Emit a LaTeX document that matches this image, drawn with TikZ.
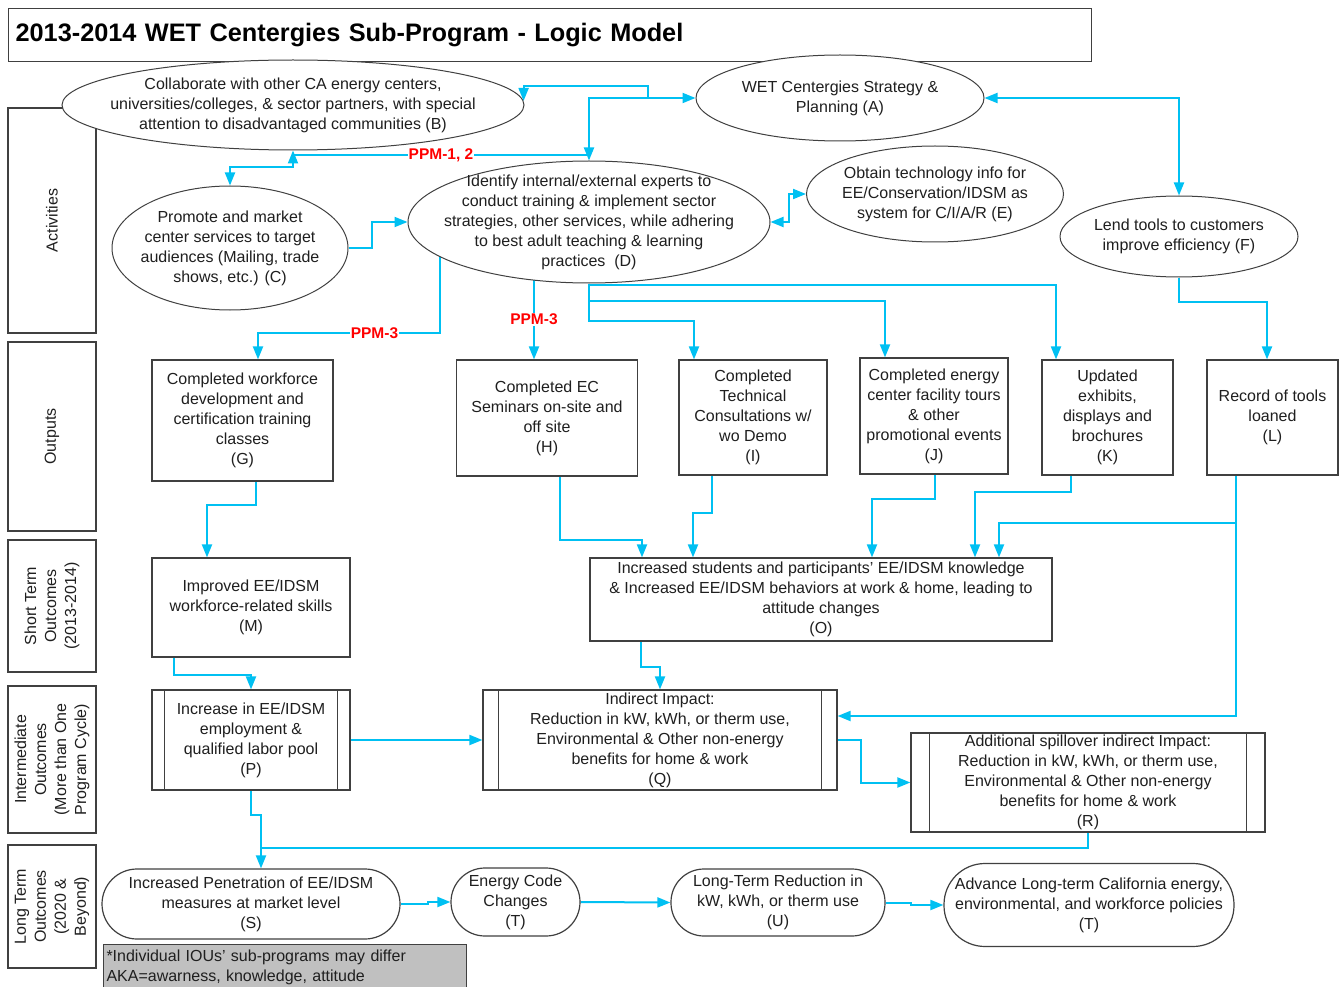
\documentclass[tikz,border=0pt]{standalone}
\usepackage{fontspec}
\setmainfont{Liberation Sans}
\usetikzlibrary{shapes.geometric,arrows.meta,calc}
\definecolor{cy}{RGB}{0,192,242}
\definecolor{notegray}{RGB}{192,192,192}
\pgfdeclarelayer{bg}
\pgfsetlayers{bg,main}
\begin{document}
\begin{tikzpicture}[x=1pt,y=-1pt,
  txt/.style={font=\fontsize{16}{20}\selectfont, text=black!88, align=center, inner sep=0pt},
  rbox/.style={txt, draw=black!75, line width=1.2pt, fill=white, rectangle},
  ebox/.style={draw=black!75, line width=1pt, fill=white, ellipse, inner sep=0pt},
  lab/.style={rbox, rotate=90},
  conn/.style={draw=cy, line width=2pt, -{Triangle[length=13pt,width=10pt]}},
  conntwo/.style={draw=cy, line width=2pt, {Triangle[length=13pt,width=10pt]}-{Triangle[length=13pt,width=10pt]}},
  wire/.style={draw=cy, line width=2pt},
  ppm/.style={font=\bfseries\fontsize{15.5}{18}\selectfont, text=red, fill=white, inner sep=1pt},
  bar/.style={draw=black!75, line width=1.2pt},
]
\useasboundingbox (0,0) rectangle (1339,987);

% title
\node[draw=black!75, line width=1.2pt, anchor=north west, minimum width=1083pt, minimum height=53pt,
      inner xsep=7pt, inner ysep=0pt, text width=1069pt, align=left,
      font=\bfseries\fontsize{25.3}{29}\selectfont] (title) at (8,8) {2013-2014 WET Centergies Sub-Program - Logic Model};

% row labels
\node[lab, minimum width=225pt, minimum height=88pt] (lA) at (52,220.5) {Activities};
\node[lab, minimum width=189pt, minimum height=88pt] (lO) at (52,436.5) {Outputs};
\node[lab, minimum width=132pt, minimum height=88pt] (lS) at (52,606) {Short Term\\Outcomes\\(2013-2014)};
\node[lab, minimum width=147pt, minimum height=88pt] (lI) at (52,759.5) {Intermediate\\Outcomes\\(More than One\\Program Cycle)};
\node[lab, minimum width=123pt, minimum height=88pt] (lL) at (52,906.5) {Long Term\\Outcomes\\(2020 \&\\Beyond)};

% activities (ellipses)
\node[ebox, minimum width=462pt, minimum height=90pt] (B) at (293,105) {};
\node[txt] (Bt) at (B) {Collaborate with other CA energy centers,\\universities/colleges, \& sector partners, with special\\attention to disadvantaged communities (B)};
\node[ebox, minimum width=288pt, minimum height=86pt] (A) at (840,98) {};
\node[txt] (At) at (A) {WET Centergies Strategy \&\\Planning (A)};
\node[ebox, minimum width=236pt, minimum height=124pt] (C) at (230,248) {};
\node[txt] (Ct) at (C) {Promote and market\\center services to target\\audiences (Mailing, trade\\shows, etc.) (C)};
\node[ebox, minimum width=362pt, minimum height=122pt] (D) at (589,222) {};
\node[txt] (Dt) at (D) {Identify internal/external experts to\\conduct training \& implement sector\\strategies, other services, while adhering\\to best adult teaching \& learning\\practices~~(D)};
\node[ebox, minimum width=257pt, minimum height=96pt] (E) at (935,194) {};
\node[txt] (Et) at (E) {Obtain technology info for\\EE/Conservation/IDSM as\\system for C/I/A/R (E)};
\node[ebox, minimum width=238pt, minimum height=81pt] (F) at (1179,236.5) {};
\node[txt] (Ft) at (F) {Lend tools to customers\\improve efficiency (F)};

% outputs
\node[rbox, minimum width=181pt, minimum height=121pt] (G) at (242.5,420.5) {Completed workforce\\development and\\certification training\\classes\\(G)};
\node[rbox, minimum width=181pt, minimum height=116pt] (H) at (547,418) {Completed EC\\Seminars on-site and\\off site\\(H)};
\node[rbox, minimum width=148pt, minimum height=115pt] (I) at (753,417.5) {Completed\\Technical\\Consultations w/\\wo Demo\\(I)};
\node[rbox, minimum width=148pt, minimum height=116pt] (J) at (934,416) {Completed energy\\center facility tours\\\& other\\promotional events\\(J)};
\node[rbox, minimum width=131pt, minimum height=115pt] (K) at (1107.5,417.5) {Updated\\exhibits,\\displays and\\brochures\\(K)};
\node[rbox, minimum width=131pt, minimum height=115pt] (L) at (1272.5,417.5) {Record of tools\\loaned\\(L)};

% short term
\node[rbox, minimum width=198pt, minimum height=99pt] (M) at (251,607.5) {Improved EE/IDSM\\workforce-related skills\\(M)};
\node[rbox, minimum width=462pt, minimum height=83pt] (O) at (821,599.5) {Increased students and participants’ EE/IDSM knowledge\\\& Increased EE/IDSM behaviors at work \& home, leading to\\attitude changes\\(O)};

% intermediate
\node[rbox, minimum width=198pt, minimum height=100pt] (P) at (251,740) {Increase in EE/IDSM\\employment \&\\qualified labor pool\\(P)};
\node[rbox, minimum width=354pt, minimum height=100pt] (Q) at (660,740) {Indirect Impact:\\Reduction in kW, kWh, or therm use,\\Environmental \& Other non-energy\\benefits for home \& work\\(Q)};
\node[rbox, minimum width=354pt, minimum height=99pt] (R) at (1088,782.5) {Additional spillover indirect Impact:\\Reduction in kW, kWh, or therm use,\\Environmental \& Other non-energy\\benefits for home \& work\\(R)};
\draw[bar] ([xshift=13pt]P.north west) -- ([xshift=13pt]P.south west);
\draw[bar] ([xshift=-13pt]P.north east) -- ([xshift=-13pt]P.south east);
\draw[bar] ([xshift=16pt]Q.north west) -- ([xshift=16pt]Q.south west);
\draw[bar] ([xshift=-16pt]Q.north east) -- ([xshift=-16pt]Q.south east);
\draw[bar] ([xshift=19pt]R.north west) -- ([xshift=19pt]R.south west);
\draw[bar] ([xshift=-19pt]R.north east) -- ([xshift=-19pt]R.south east);

% long term
\node[rbox, rounded corners=35pt, minimum width=298pt, minimum height=70pt] (S) at (251,904) {Increased Penetration of EE/IDSM\\measures at market level\\(S)};
\node[rbox, rounded corners=34pt, minimum width=129pt, minimum height=68pt] (T) at (515.5,902) {Energy Code\\Changes\\(T)};
\node[rbox, rounded corners=33pt, minimum width=214pt, minimum height=67pt] (U) at (778,902.5) {Long-Term Reduction in\\kW, kWh, or therm use\\(U)};
\node[rbox, rounded corners=41pt, minimum width=290pt, minimum height=83pt] (T2) at (1089,905) {Advance Long-term California energy,\\environmental, and workforce policies\\(T)};

% note
\node[draw=black!75, line width=1pt, fill=notegray, anchor=north west, minimum width=363pt, minimum height=45pt,
      inner xsep=3pt, inner ysep=2pt, text width=357pt, align=left, font=\fontsize{16}{20}\selectfont, text=black!88] (note) at (103,944)
      {*Individual IOUs’ sub-programs may differ\\AKA=awarness, knowledge, attitude};

% connectors
\begin{pgfonlayer}{bg}
\draw[conntwo] (B.1.5) |- (648,86) |- (A.west);
\draw[conn] (648,98) -| (D.north);
\draw[wire] (293,155) -- node[ppm]{PPM-1, 2} (D.north |- 0,155);
\draw[conntwo] (B.south) |- (230,167) -- (C.north);
\draw[conn] (C.east) -- (372,248) |- (D.west);
\draw[conntwo] (D.east) -- (789,222) |- (E.west);
\draw[conntwo] (A.east) -| (F.north);

\draw[conn] (D.center -| 440,0) -- (440,333) -| node[ppm, pos=0.18]{PPM-3} (G.north -| 258,0);
\draw[conn] (D.center -| 534,0) -- node[ppm, pos=0.71]{PPM-3} (H.north -| 534,0);
\draw[conn] (D.south) -- (589,321) -| (I.north -| 694,0);
\draw[conn] (D.south) -- (589,301) -| (J.north -| 885,0);
\draw[conn] (D.south) -- (589,285) -| (K.north -| 1056,0);
\draw[conn] (F.south) -- (1179,302) -| (L.north -| 1267,0);

\draw[conn] (G.south -| 256,0) -- (256,505) -| (M.north -| 207,0);
\draw[conn] (H.south -| 560,0) -- (560,540) -| (O.north -| 642,0);
\draw[conn] (I.south -| 712,0) -- (712,513) -| (O.north -| 693,0);
\draw[conn] (J.south -| 935,0) -- (935,499) -| (O.north -| 872,0);
\draw[conn] (K.south -| 1071,0) -- (1071,492) -| (O.north -| 975,0);
\draw[conn] (L.south -| 1236,0) -- (1236,523) -| (O.north -| 999,0);
\draw[conn] (L.south -| 1236,0) |- (Q.east |- 0,716);

\draw[conn] (M.south -| 174,0) -- (174,675) -| (P.north);
\draw[conn] (O.south -| 641,0) -- (641,667) -| (Q.north -| 660,0);
\draw[conn] (P.east) -- (Q.west);
\draw[conn] (Q.east) -- (861,740) |- (R.west);
\draw[conn] (P.south) -- (251,815) -| (S.north -| 261,0);
\draw[wire] (R.south) |- (261,848);

\draw[conn] (S.east) -- (428,904) |- (T.west);
\draw[conn] (T.east) -- (U.west);
\draw[conn] (U.east) -- (911,902.5) |- (T2.west);
\end{pgfonlayer}
\end{tikzpicture}
\end{document}
